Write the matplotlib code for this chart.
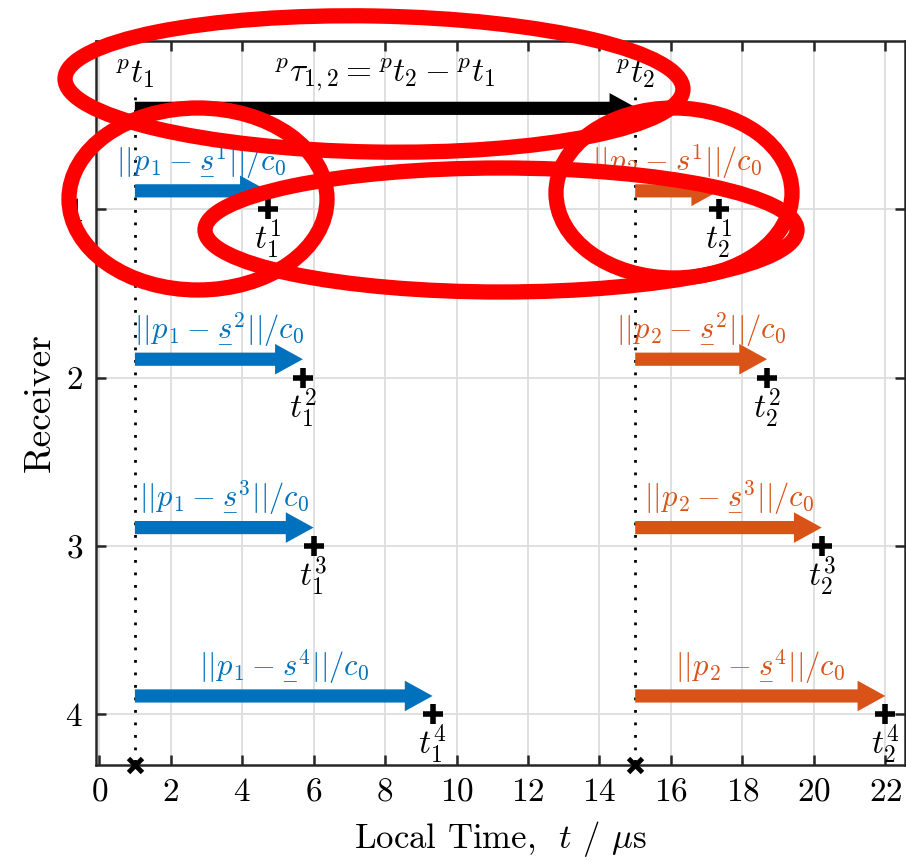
import matplotlib
matplotlib.use("Agg")
import matplotlib.pyplot as plt
from matplotlib.patches import Ellipse

plt.rcParams["font.family"] = "serif"
plt.rcParams["font.serif"] = ["cmr10"]
plt.rcParams["mathtext.fontset"] = "cm"
plt.rcParams["axes.formatter.use_mathtext"] = True

# emission times of the two pulses (local time, us)
pulse_times = [1.0, 15.0]
receivers = [1, 2, 3, 4]
# arrival times at each receiver
arrivals_1 = [4.72, 5.70, 6.00, 9.33]
arrivals_2 = [17.35, 18.69, 20.22, 22.00]

x_ticks = list(range(0, 23, 2))

BLUE = "#0072BD"
ORANGE = "#D95319"

# hand-drawn red marks: centre x, centre y (pixels from top-left), width, height, angle
highlights = [
    (374, 84, 618, 136, -1),
    (198, 199, 258, 182, 0),
    (501, 230, 592, 124, 0),
    (674, 193, 236, 170, 0),
]

fig = plt.figure(figsize=(9.06, 8.61), dpi=100)
ax = fig.add_axes([0.1055, 0.1115, 0.8934, 0.8409])

ax.set_xlim(-0.1, 22.55)
ax.set_ylim(4.3, 0)
ax.set_xticks(x_ticks)
ax.set_yticks(receivers)
ax.grid(True, color="#dddddd", lw=1.3)
ax.set_axisbelow(True)
ax.tick_params(direction="in", top=True, right=True, length=7, width=1.8,
               labelsize=24, pad=9, color="#262626")
for s in ax.spines.values():
    s.set_linewidth(1.8)
    s.set_color("#262626")

ax.set_xlabel(r"Local Time,  $t$ / $\mu$s", fontsize=25, labelpad=9)
ax.set_ylabel("Receiver", fontsize=27, labelpad=6)

arrow_style = "simple,head_length=2.0,head_width=2.2,tail_width=0.95"


def draw_arrow(x0, x1, y, color):
    ax.annotate("", xy=(x1, y), xytext=(x0, y),
                arrowprops=dict(arrowstyle=arrow_style, color=color, lw=0,
                                shrinkA=0, shrinkB=0, mutation_scale=10))


# emission instants
for k, tp in enumerate(pulse_times):
    ax.plot([tp, tp], [0.33, 4.3], ls=(0, (1, 3.5)), color="k", lw=2)
    ax.plot(tp, 4.3, marker="x", color="k", ms=10, mew=3.5, clip_on=False, zorder=5)
    ax.text(tp, 0.29, r"${}^{p}t_{%d}$" % (k + 1), fontsize=24,
            ha="center", va="bottom")

draw_arrow(pulse_times[0], pulse_times[1] + 0.06, 0.40, "k")
ax.text(sum(pulse_times) / 2, 0.31,
        r"${}^{p}\tau_{1,2} = {}^{p}t_2 - {}^{p}t_1$", fontsize=24,
        ha="center", va="bottom")

for k, (arr, col) in enumerate([(arrivals_1, BLUE), (arrivals_2, ORANGE)]):
    tp = pulse_times[k]
    for r, t in zip(receivers, arr):
        draw_arrow(tp, t, r - 0.11, col)
        ax.plot(t, r, marker="+", color="k", ms=14, mew=4, zorder=4,
                clip_on=False)
        ax.text((tp + t) / 2, r - 0.17,
                r"$||\underset{-}{p}_{%d} - \underset{-}{s}^{%d}||/c_0$" % (k + 1, r),
                color=col, fontsize=22, ha="center", va="bottom")
        ax.text(t, r + 0.05, r"$t_{%d}^{%d}$" % (k + 1, r), fontsize=24,
                ha="center", va="top")

for cx, cy, w, h, ang in highlights:
    fig.add_artist(Ellipse((cx / 100, (861 - cy) / 100), w / 100, h / 100,
                           angle=ang, fill=False, ec="#ff0000", lw=11,
                           transform=fig.dpi_scale_trans, zorder=10))

fig.savefig("out.png", dpi=100)
